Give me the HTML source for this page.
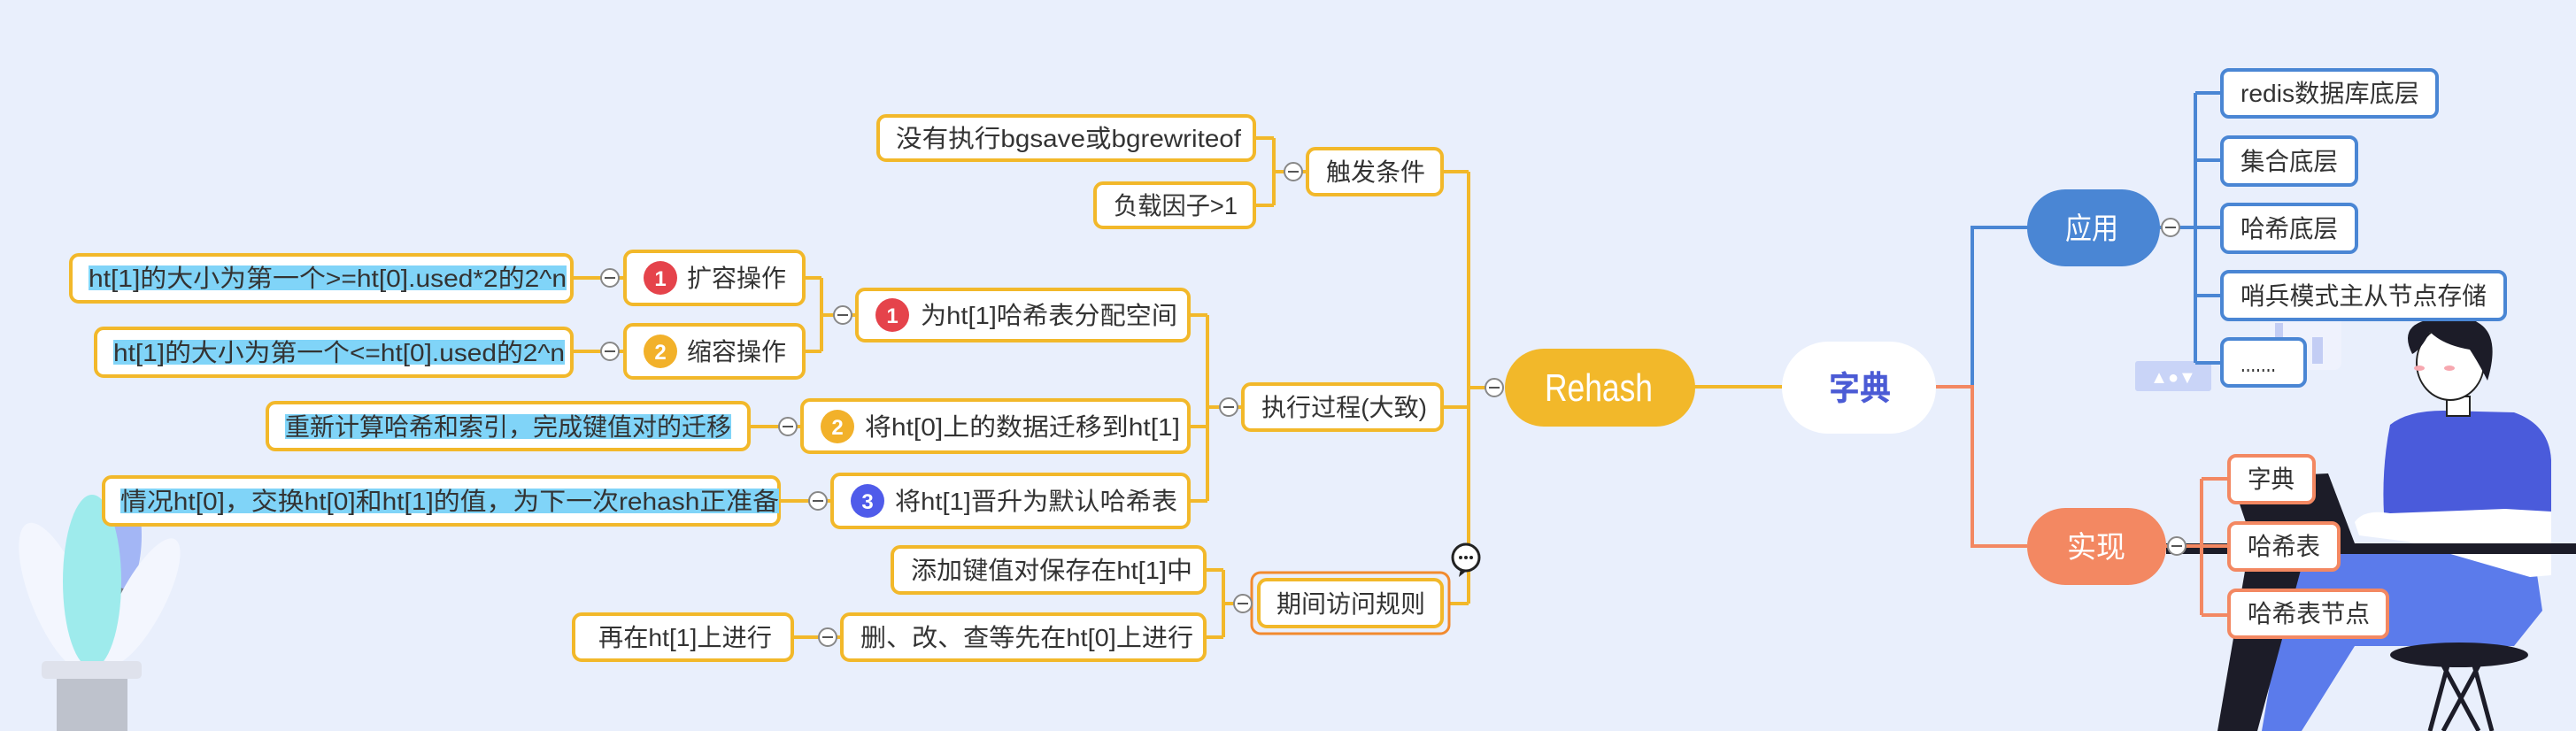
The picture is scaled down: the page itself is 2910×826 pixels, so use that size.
<!DOCTYPE html>
<html><head><meta charset="utf-8"><style>
html,body{margin:0;padding:0;background:#E9EFFC;}
svg{display:block}
text{font-family:"Liberation Sans","Noto Sans CJK SC",sans-serif;}
.t{font-size:28px;fill:#333;}
</style></head><body>
<svg width="2910" height="826" viewBox="0 0 2910 826" xmlns="http://www.w3.org/2000/svg">
<rect width="2910" height="826" fill="#E9EFFC"/>

<!-- plant -->
<g>
<path d="M128,560 L150,560 L148,720 L120,760 Z" fill="#777A82"/>
<ellipse cx="140" cy="605" rx="20" ry="60" fill="#A3B6F5"/>
<ellipse cx="65" cy="675" rx="30" ry="90" fill="#F3F6FE" transform="rotate(-22 65 675)"/>
<ellipse cx="160" cy="680" rx="25" ry="80" fill="#F3F6FE" transform="rotate(28 160 680)"/>
<ellipse cx="104" cy="657" rx="33" ry="98" fill="#9EEBEC"/>
<rect x="64" y="767" width="80" height="60" fill="#BEC2CC"/>
<rect x="47" y="747" width="113" height="20" rx="5" fill="#DFE2EC"/>
</g>

<!-- decorative -->
<rect x="2553" y="355" width="92" height="63" rx="8" fill="#F1F4FD" opacity="0.7"/>
<rect x="2570" y="365" width="9" height="33" fill="#C3CDF4"/>
<rect x="2612" y="381" width="12" height="30" fill="#C3CDF4"/>
<rect x="2412" y="408" width="86" height="34" rx="3" fill="#C9D4F7"/>
<text x="2455" y="433" font-size="20" fill="#fff" text-anchor="middle">▲●▼</text>

<!-- person -->
<g>
<path d="M2590,622 L2862,622 L2872,690 L2840,730 L2660,730 L2600,826 L2555,826 Z" fill="#5B7BEB"/>
<path d="M2540,622 L2605,622 L2550,826 L2505,826 Z" fill="#1C1C28"/>
<path d="M2520,540 L2630,535 L2660,614 L2545,614 Z" fill="#1C1C28"/>
<path d="M2700,480 Q2720,464 2760,464 L2840,466 Q2880,480 2882,520 L2882,606 L2695,606 Q2688,540 2700,480 Z" fill="#4A5BDB"/>
<path d="M2660,590 Q2670,575 2700,580 L2830,575 L2882,578 L2882,650 L2858,652 L2720,612 L2665,605 Z" fill="#fff"/>
<rect x="2447" y="614" width="463" height="12" fill="#1C1C28"/>
<rect x="2764" y="448" width="26" height="22" fill="#fff" stroke="#222" stroke-width="2"/>
<ellipse cx="2768" cy="410" rx="38" ry="42" fill="#fff" stroke="#222" stroke-width="2"/>
<path d="M2725,400 Q2710,370 2740,362 Q2770,345 2800,365 Q2825,380 2810,430 Q2800,410 2790,395 Q2760,390 2745,375 Q2735,395 2725,400 Z" fill="#1C1C28"/>
<ellipse cx="2733" cy="416" rx="6" ry="3" fill="#F7A8B0"/>
<ellipse cx="2767" cy="416" rx="6" ry="3" fill="#F7A8B0"/>
<ellipse cx="2778" cy="740" rx="78" ry="14" fill="#1C1C28"/>
<path d="M2760,752 L2800,826 M2800,752 L2760,826 M2765,752 L2745,826 M2795,752 L2815,826" stroke="#1C1C28" stroke-width="5"/>
</g>

<!-- yellow connectors -->
<g stroke="#F2B82A" stroke-width="4" fill="none">
<path d="M1912,437 L2013,437"/>
<path d="M1678,438 L1659,438 M1659,194 L1659,682 M1629,194 L1659,194 M1629,460 L1659,460 M1637,682 L1659,682"/>
<path d="M1477,194 L1439,194 M1439,156 L1439,232 M1417,156 L1439,156 M1417,232 L1439,232"/>
<path d="M1404,460 L1364,460 M1364,356 L1364,566 M1343,356 L1364,356 M1343,482 L1364,482 M1343,566 L1364,566"/>
<path d="M968,356 L928,356 M928,314 L928,397 M908,314 L928,314 M908,397 L928,397"/>
<path d="M646,314 L706,314 M646,397 L706,397 M846,482 L906,482 M880,566 L940,566"/>
<path d="M1414,682 L1382,682 M1382,644 L1382,720 M1361,644 L1382,644 M1361,720 L1382,720"/>
<path d="M895,720 L951,720"/>
</g>
<!-- blue / orange connectors -->
<g stroke="#4A86D4" stroke-width="4" fill="none">
<path d="M2228,437 L2228,257 L2290,257"/>
<path d="M2440,257 L2510,257 M2480,105 L2480,410 M2480,105 L2510,105 M2480,181 L2510,181 M2480,334 L2510,334 M2480,410 L2510,410"/>
</g>
<g stroke="#F38862" stroke-width="4" fill="none">
<path d="M2187,437 L2228,437 L2228,617 L2290,617"/>
<path d="M2447,617 L2518,617 M2487,541 L2487,695 M2487,541 L2518,541 M2487,695 L2518,695"/>
</g>

<!-- main nodes -->
<rect x="1700" y="394" width="215" height="88" rx="44" fill="#F2B82A"/>
<text x="1745" y="453" font-size="44" fill="#fff" textLength="122" lengthAdjust="spacingAndGlyphs">Rehash</text>
<rect x="2013" y="386" width="174" height="104" rx="52" fill="#fff"/>
<text x="2066" y="452" font-size="38" font-weight="bold" fill="#4B5BD5" textLength="70" lengthAdjust="spacingAndGlyphs">字典</text>
<rect x="2290" y="214" width="150" height="87" rx="43" fill="#4A86D4"/>
<text x="2333" y="270" font-size="34" fill="#fff" textLength="60" lengthAdjust="spacingAndGlyphs">应用</text>
<rect x="2290" y="574" width="157" height="87" rx="43" fill="#F38862"/>
<text x="2335" y="630" font-size="34" fill="#fff" textLength="66" lengthAdjust="spacingAndGlyphs">实现</text>

<!-- blue children -->
<g fill="#fff" stroke="#4A86D4" stroke-width="4">
<rect x="2510" y="79" width="243" height="53" rx="8"/>
<rect x="2510" y="155" width="152" height="54" rx="8"/>
<rect x="2510" y="231" width="152" height="54" rx="8"/>
<rect x="2510" y="307" width="320" height="54" rx="8"/>
<rect x="2510" y="383" width="94" height="53" rx="8"/>
</g>
<text class="t" x="2531" y="115" textLength="202" lengthAdjust="spacingAndGlyphs">redis数据库底层</text>
<text class="t" x="2531" y="192" textLength="110" lengthAdjust="spacingAndGlyphs">集合底层</text>
<text class="t" x="2531" y="268" textLength="110" lengthAdjust="spacingAndGlyphs">哈希底层</text>
<text class="t" x="2531" y="344" textLength="278" lengthAdjust="spacingAndGlyphs">哨兵模式主从节点存储</text>
<text class="t" x="2531" y="420" textLength="40" lengthAdjust="spacingAndGlyphs">.......</text>

<!-- orange children -->
<g fill="#fff" stroke="#F38862" stroke-width="4">
<rect x="2518" y="515" width="96" height="53" rx="8"/>
<rect x="2518" y="591" width="124" height="53" rx="8"/>
<rect x="2518" y="667" width="179" height="53" rx="8"/>
</g>
<text class="t" x="2539" y="551" textLength="53" lengthAdjust="spacingAndGlyphs">字典</text>
<text class="t" x="2539" y="627" textLength="82" lengthAdjust="spacingAndGlyphs">哈希表</text>
<text class="t" x="2539" y="703" textLength="138" lengthAdjust="spacingAndGlyphs">哈希表节点</text>

<!-- yellow boxes -->
<g fill="#fff" stroke="#F2B82A" stroke-width="4">
<rect x="992" y="131" width="425" height="50" rx="9"/>
<rect x="1237" y="207" width="180" height="50" rx="9"/>
<rect x="1477" y="168" width="152" height="52" rx="9"/>
<rect x="968" y="327" width="375" height="58" rx="9"/>
<rect x="906" y="452" width="437" height="59" rx="9"/>
<rect x="940" y="536" width="403" height="60" rx="9"/>
<rect x="1404" y="434" width="225" height="52" rx="9"/>
<rect x="1008" y="618" width="353" height="52" rx="9"/>
<rect x="951" y="694" width="410" height="52" rx="9"/>
<rect x="648" y="694" width="247" height="52" rx="9"/>
<rect x="706" y="284" width="202" height="60" rx="9"/>
<rect x="706" y="367" width="202" height="60" rx="9"/>
<rect x="80" y="288" width="566" height="53" rx="9"/>
<rect x="108" y="371" width="538" height="54" rx="9"/>
<rect x="302" y="455" width="544" height="53" rx="9"/>
<rect x="117" y="539" width="763" height="54" rx="9"/>
<rect x="1422" y="655" width="207" height="53" rx="9"/>
</g>
<rect x="1414" y="647" width="223" height="69" rx="10" fill="none" stroke="#F28A2E" stroke-width="3"/>

<!-- highlights -->
<g fill="#80D4F8">
<rect x="100" y="300" width="540" height="28"/>
<rect x="128" y="384" width="510" height="28"/>
<rect x="322" y="468" width="504" height="28"/>
<rect x="136" y="552" width="744" height="28"/>
</g>

<!-- number circles -->
<circle cx="1008" cy="356" r="19" fill="#E5434B"/>
<circle cx="946" cy="482" r="19" fill="#F2B12A"/>
<circle cx="980" cy="566" r="19" fill="#4F5BEA"/>
<circle cx="746" cy="314" r="19" fill="#E5434B"/>
<circle cx="746" cy="397" r="19" fill="#F2B12A"/>
<g font-size="24" fill="#fff" text-anchor="middle" font-weight="bold">
<text x="1008" y="365">1</text><text x="946" y="491">2</text><text x="980" y="575">3</text>
<text x="746" y="323">1</text><text x="746" y="406">2</text>
</g>

<!-- texts -->
<text class="t" x="1012" y="166" textLength="390" lengthAdjust="spacingAndGlyphs">没有执行bgsave或bgrewriteof</text>
<text class="t" x="1258" y="242" textLength="140" lengthAdjust="spacingAndGlyphs">负载因子&gt;1</text>
<text class="t" x="1498" y="204" textLength="112" lengthAdjust="spacingAndGlyphs">触发条件</text>
<text class="t" x="1040" y="366" textLength="290" lengthAdjust="spacingAndGlyphs">为ht[1]哈希表分配空间</text>
<text class="t" x="977" y="492" textLength="356" lengthAdjust="spacingAndGlyphs">将ht[0]上的数据迁移到ht[1]</text>
<text class="t" x="1011" y="576" textLength="319" lengthAdjust="spacingAndGlyphs">将ht[1]晋升为默认哈希表</text>
<text class="t" x="1425" y="470" textLength="187" lengthAdjust="spacingAndGlyphs">执行过程(大致)</text>
<text class="t" x="1442" y="692" textLength="168" lengthAdjust="spacingAndGlyphs">期间访问规则</text>
<text class="t" x="1029" y="654" textLength="318" lengthAdjust="spacingAndGlyphs">添加键值对保存在ht[1]中</text>
<text class="t" x="972" y="730" textLength="376" lengthAdjust="spacingAndGlyphs">删、改、查等先在ht[0]上进行</text>
<text class="t" x="676" y="730" textLength="196" lengthAdjust="spacingAndGlyphs">再在ht[1]上进行</text>
<text class="t" x="776" y="324" textLength="112" lengthAdjust="spacingAndGlyphs">扩容操作</text>
<text class="t" x="776" y="407" textLength="112" lengthAdjust="spacingAndGlyphs">缩容操作</text>
<text class="t" x="100" y="324" textLength="540" lengthAdjust="spacingAndGlyphs">ht[1]的大小为第一个&gt;=ht[0].used*2的2^n</text>
<text class="t" x="128" y="408" textLength="510" lengthAdjust="spacingAndGlyphs">ht[1]的大小为第一个&lt;=ht[0].used的2^n</text>
<text class="t" x="322" y="492" textLength="504" lengthAdjust="spacingAndGlyphs">重新计算哈希和索引，完成键值对的迁移</text>
<text class="t" x="136" y="576" textLength="744" lengthAdjust="spacingAndGlyphs">情况ht[0]，交换ht[0]和ht[1]的值，为下一次rehash正准备</text>

<!-- collapse circles -->
<g fill="#fff" stroke="#888" stroke-width="2">
<circle cx="1688" cy="438" r="10"/><circle cx="1461" cy="194" r="10"/>
<circle cx="1388" cy="460" r="10"/><circle cx="952" cy="356" r="10"/>
<circle cx="689" cy="314" r="10"/><circle cx="689" cy="397" r="10"/>
<circle cx="890" cy="482" r="10"/><circle cx="924" cy="566" r="10"/>
<circle cx="1404" cy="682" r="10"/><circle cx="935" cy="720" r="10"/>
<circle cx="2452" cy="257" r="10"/><circle cx="2459" cy="617" r="10"/>
</g>
<g stroke="#555" stroke-width="2">
<path d="M1682,438h12M1455,194h12M1382,460h12M946,356h12M683,314h12M683,397h12M884,482h12M918,566h12M1398,682h12M929,720h12M2446,257h12M2453,617h12"/>
</g>

<!-- comment icon -->
<circle cx="1656" cy="630" r="15" fill="#fff" stroke="#222" stroke-width="3"/>
<path d="M1650,643 L1648,652 L1658,644 Z" fill="#222"/>
<g fill="#222"><circle cx="1650" cy="630" r="2"/><circle cx="1656" cy="630" r="2"/><circle cx="1662" cy="630" r="2"/></g>
</svg>
</body></html>
